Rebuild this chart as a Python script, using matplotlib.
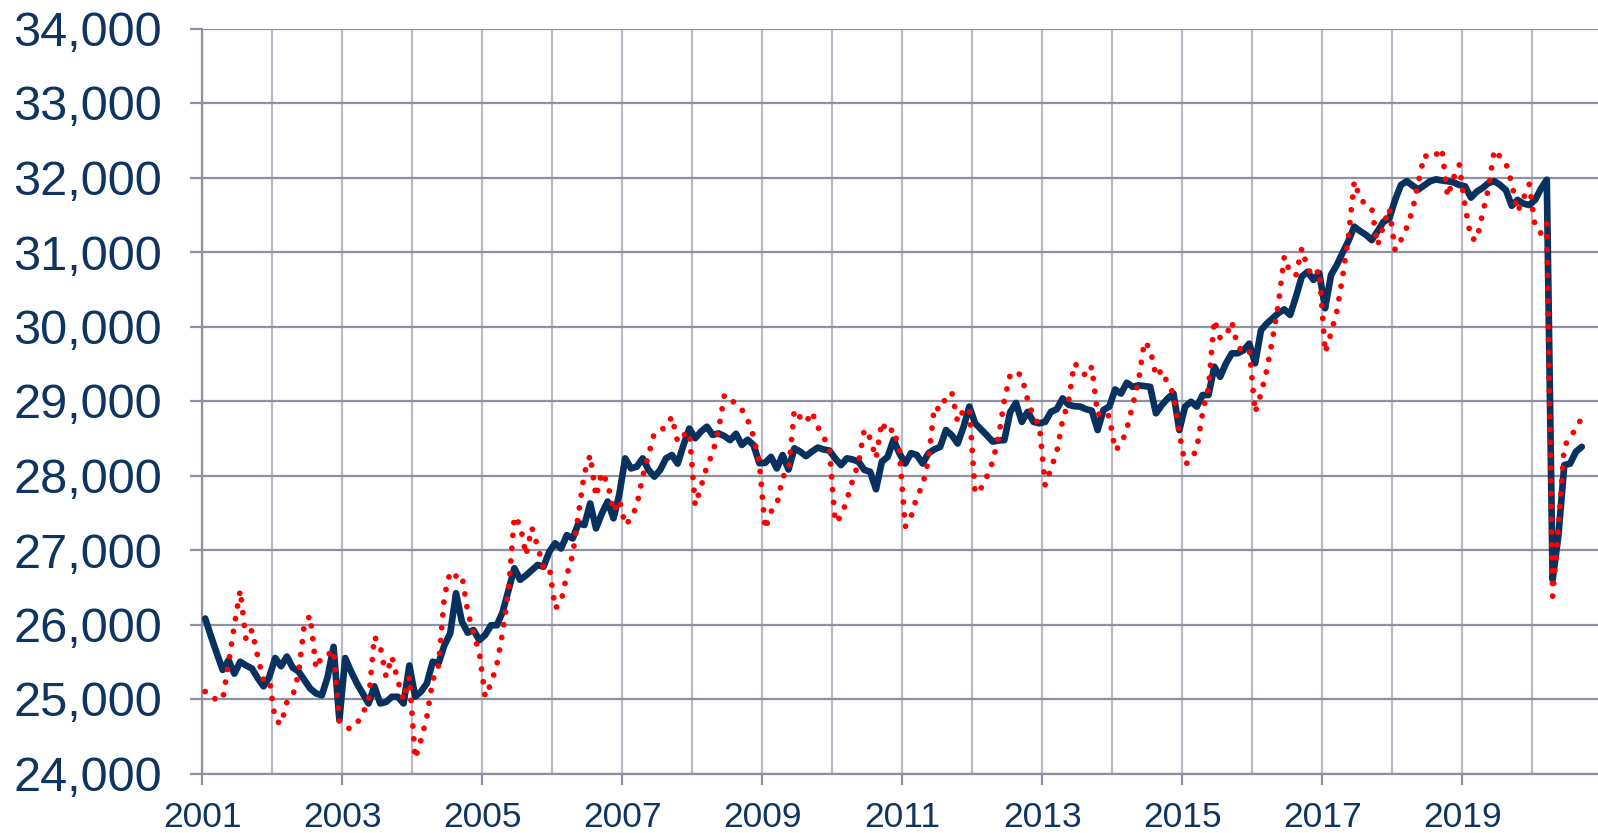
import matplotlib
matplotlib.use("Agg")
import matplotlib.pyplot as plt
import numpy as np

# Monthly series, Jan 2001 - Sep 2020
start_year = 2001
seasonally_adjusted = [
    26080, 25840, 25610, 25390, 25520, 25340, 25500, 25450, 25410, 25280, 25170, 25300,
    25550, 25440, 25570, 25420, 25370, 25255, 25140, 25075, 25050, 25300, 25700, 24720,
    25550, 25370, 25210, 25075, 24940, 25170, 24940, 24960, 25030, 25030, 24940, 25450,
    25030, 25100, 25210, 25500, 25480, 25720, 25880, 26420, 26040, 25890, 25925, 25790,
    25860, 25990, 25990, 26170, 26460, 26755, 26600, 26660, 26730, 26800, 26775, 26980,
    27090, 27020, 27200, 27155, 27360, 27335, 27625, 27290, 27490, 27650, 27425, 27750,
    28230, 28095, 28120, 28230, 28075, 27985, 28075, 28230, 28275, 28160, 28410, 28630,
    28500, 28590, 28655, 28545, 28565, 28530, 28475, 28560, 28410, 28480, 28410, 28165,
    28170, 28250, 28095, 28275, 28080, 28365, 28320, 28260, 28320, 28375, 28350, 28335,
    28230, 28140, 28230, 28215, 28185, 28075, 28050, 27815, 28185, 28250, 28480, 28300,
    28160, 28300, 28275, 28160, 28300, 28350, 28385, 28610, 28540, 28430, 28650, 28925,
    28700, 28620, 28540, 28455, 28470, 28475, 28850, 28975, 28720, 28855, 28720, 28700,
    28720, 28855, 28890, 29035, 28950, 28930, 28925, 28890, 28870, 28610, 28880, 28925,
    29155, 29100, 29245, 29190, 29210, 29200, 29190, 28835, 28945, 29035, 29100, 28610,
    28925, 28990, 28925, 29080, 29080, 29460, 29325, 29505, 29640, 29640, 29680, 29770,
    29505, 29950, 30040, 30110, 30180, 30230, 30155, 30400, 30670, 30735, 30625, 30715,
    30245, 30690, 30825, 30990, 31150, 31340, 31280, 31230, 31160, 31280, 31405, 31450,
    31700, 31900, 31950, 31890, 31840, 31895, 31950, 31975, 31960, 31950, 31935, 31900,
    31880, 31730, 31810, 31860, 31925, 31950, 31900, 31830, 31620, 31700, 31650, 31630,
    31700, 31850, 31970, 26600, 27200, 28140, 28160, 28320, 28385,
]
not_adjusted = [
    25100, 25010, 25000, 24990, 25480, 25990, 26460, 25790, 25925, 25570, 25250, 25255,
    24720, 24660, 24955, 25040, 25340, 26010, 26120, 25410, 25570, 25590, 25660, 24700,
    24615, 24600, 24670, 24810, 24965, 25840, 25710, 25300, 25570, 25255, 24985, 25300,
    24200, 24450, 24760, 25250, 25450, 26380, 26710, 26650, 26670, 26170, 25880, 25620,
    25030, 25210, 25460, 25900, 26460, 27450, 27335, 26930, 27300, 27045, 26760, 26770,
    26215, 26305, 26665, 26935, 27490, 28030, 28275, 27715, 28040, 27895, 27515, 27670,
    27335, 27420, 27600, 27985, 28275, 28570, 28610, 28650, 28790, 28450, 28540, 28585,
    27600, 27850, 28120, 28300, 28610, 29075, 29060, 28930, 28885, 28745, 28530, 28165,
    27280, 27515, 27605, 27985, 28050, 28880, 28780, 28710, 28855, 28655, 28520, 28365,
    27370, 27450, 27670, 27940, 28165, 28620, 28500, 28230, 28720, 28565, 28630, 28340,
    27310, 27445, 27715, 27870, 28210, 28925, 28880, 29050, 29115, 28720, 28880, 28900,
    27760, 27830, 27985, 28185, 28510, 29010, 29350, 29400, 29330, 29015, 28790, 28680,
    27870, 28095, 28320, 28745, 28990, 29505, 29440, 29330, 29460, 28810, 28870, 28790,
    28340, 28410, 28625, 28945, 29260, 29795, 29705, 29330, 29415, 29235, 29100, 28565,
    28150, 28200, 28365, 28850, 29180, 30090, 29845, 29870, 30065, 29730, 29660, 29685,
    28845, 29100, 29415, 29840, 30310, 30940, 30715, 30690, 31050, 30780, 30670, 30760,
    29650, 29910, 30200, 30670, 31210, 31950, 31720, 31630, 31585, 31090, 31355, 31585,
    31025, 31160, 31330, 31565, 31945, 32300, 32255, 32305, 32390, 31745, 31990, 32170,
    31610, 31185, 31160, 31520, 31855, 32370, 32280, 32190, 31920, 31540, 31720, 31910,
    31340, 31250, 31385, 26380, 27300, 28400, 28500, 28640, 28770,
]
x_tick_years = [2001, 2003, 2005, 2007, 2009, 2011, 2013, 2015, 2017, 2019]
y_ticks = [24000, 25000, 26000, 27000, 28000, 29000, 30000, 31000, 32000, 33000, 34000]

NAVY = "#07325F"
TEXT = "#0E3461"
HGRID = "#8E91A1"
VGRID = "#B8BAC5"

plt.rcParams["font.family"] = ["Liberation Sans", "DejaVu Sans"]

fig = plt.figure(figsize=(15.98, 8.33), dpi=100)
ax = fig.add_axes([202.3 / 1598, 1 - 773.5 / 833, 1 - 202.3 / 1598, (773.5 - 28.5) / 833])

n = len(seasonally_adjusted)
x = start_year + (np.arange(n) + 0.5) / 12.0

ax.plot(x, seasonally_adjusted, color=NAVY, lw=4.8, solid_joinstyle="round",
        solid_capstyle="round", zorder=3)
ax.plot(x, not_adjusted, color="#FF0000", lw=4.2, linestyle=(0, (0.001, 2.2)),
        dash_capstyle="round", zorder=4)

ax.set_xlim(2001, 2020.94)
ax.set_ylim(24000, 34000)

ax.set_yticks(y_ticks)
ax.set_yticklabels([f"{v:,}" for v in y_ticks])
ax.set_xticks(x_tick_years)
ax.set_xticklabels([str(y) for y in x_tick_years])
ax.set_xticks(list(range(2002, 2021, 2)), minor=True)

ax.grid(axis="y", color=HGRID, lw=1.6, zorder=1)
ax.grid(axis="x", which="both", color=VGRID, lw=1.6, zorder=1)
ax.set_axisbelow(True)

for s in ["top", "right"]:
    ax.spines[s].set_visible(False)
ax.spines["left"].set_color(HGRID)
ax.spines["bottom"].set_color(HGRID)
ax.spines["left"].set_linewidth(1.6)
ax.spines["bottom"].set_linewidth(1.6)

ax.tick_params(axis="y", which="major", direction="out", length=9, width=1.6,
               color=HGRID, labelsize=35, labelcolor=TEXT, pad=20)
ax.tick_params(axis="x", which="major", direction="out", length=8, width=1.6,
               color=HGRID, labelsize=25.5, labelcolor=TEXT, pad=12)
ax.tick_params(axis="x", which="minor", length=0)

fig.savefig("out.png", dpi=100)
